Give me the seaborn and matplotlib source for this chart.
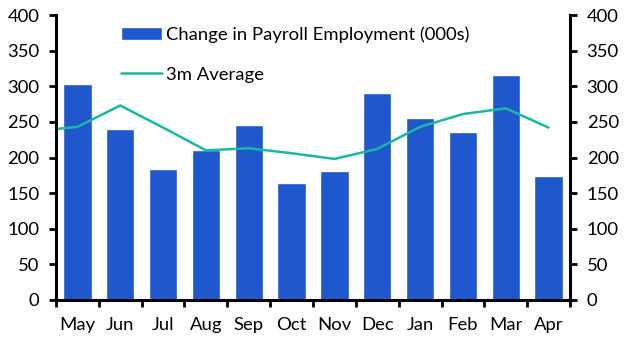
import matplotlib
matplotlib.use("Agg")
import matplotlib.pyplot as plt
import seaborn as sns
import numpy as np
import pandas as pd

months = ["May", "Jun", "Jul", "Aug", "Sep", "Oct", "Nov", "Dec", "Jan", "Feb", "Mar", "Apr"]
payrolls = [303, 240, 184, 210, 245, 164, 181, 290, 255, 236, 316, 174]
# 3m average, including the prior month (drawn off the left edge, clipped)
avg_x = [-1, 0, 1, 2, 3, 4, 5, 6, 7, 8, 9, 10, 11]
avg_3m = [237, 243, 273, 242, 210, 213, 206, 198, 212, 243, 261, 269, 242]
yticks = [0, 50, 100, 150, 200, 250, 300, 350, 400]

sns.set_theme(style="white")
plt.rcParams["font.family"] = ["Lato", "DejaVu Sans"]

fig = plt.figure(figsize=(6.28, 3.52), dpi=100)
ax = fig.add_axes([56/628, 1-300/352, (570-56)/628, (300-15)/352])

df = pd.DataFrame({"month": months, "value": payrolls})
sns.barplot(data=df, x="month", y="value", color="#1f57cc", saturation=1,
            width=0.66, ax=ax, label="Change in Payroll Employment (000s)")
sns.lineplot(x=avg_x, y=avg_3m, color="#19b8a3", linewidth=1.8, ax=ax,
             label="3m Average")

ax.set_xlim(-0.5, 11.5)
ax.set_ylim(0, 400)
ax.set_xlabel("")
ax.set_ylabel("")
ax.set_xticks(range(len(months)))
ax.set_xticklabels(months)
ax.set_xticks(np.arange(-0.5, 12, 1), minor=True)
ax.set_yticks(yticks)
ax.set_yticklabels([str(v) for v in yticks])

for s in ["left", "right", "bottom"]:
    ax.spines[s].set_visible(True)
    ax.spines[s].set_color("black")
    ax.spines[s].set_linewidth(2.2)
ax.spines["top"].set_visible(False)

fs = 13.3
ax.tick_params(axis="x", which="major", length=0, pad=12, labelsize=fs, colors="black")
ax.tick_params(axis="x", which="minor", bottom=True, length=5, width=2, direction="out", color="black")
ax.tick_params(axis="y", left=True, right=True, labelleft=True, labelright=True,
               length=5, width=2, direction="out", labelsize=fs, pad=7, color="black",
               labelcolor="black")

handles, labels = ax.get_legend_handles_labels()
order = [labels.index("Change in Payroll Employment (000s)"), labels.index("3m Average")]
leg = ax.legend([handles[i] for i in order], [labels[i] for i in order],
                loc="upper left", bbox_to_anchor=((119-56)/514 - 0.0175, 1.0), frameon=False,
                fontsize=fs, handlelength=2.2, handletextpad=0.25, labelspacing=1.3,
                borderaxespad=0.2)
for t in leg.get_texts():
    t.set_color("black")

fig.savefig("out.png", dpi=100)
